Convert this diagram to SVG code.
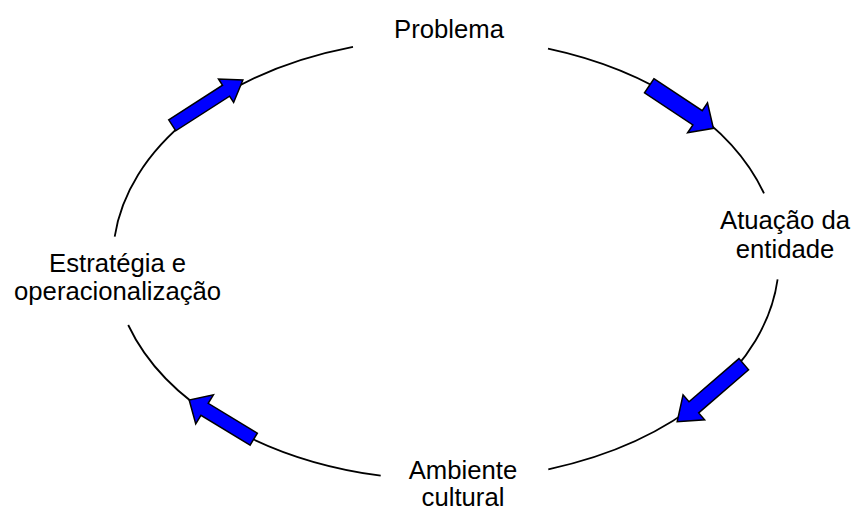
<svg xmlns="http://www.w3.org/2000/svg" width="855" height="511" viewBox="0 0 855 511">
<style>
.lbl{font-family:"Liberation Sans",Arial,sans-serif;font-size:25.7px;fill:#000;text-anchor:middle}
.arc{fill:none;stroke:#000;stroke-width:1.8}
.arw{fill:#0000FF;stroke:#000;stroke-width:1.5;stroke-linejoin:miter}
</style>
<rect width="855" height="511" fill="#fff"/>
<g id="connectors">
<path class="arc" d="M548,48.6 A333,221 0 0 1 764,193.3"/>
<path class="arc" d="M777.6,279.3 A333,221 0 0 1 548.3,469.3"/>
<path class="arc" d="M380.7,475.7 A333,221 0 0 1 128.2,325"/>
<path class="arc" d="M114.7,236.7 A333,221 0 0 1 353,46.8"/>
<polygon class="arw" transform="translate(649.2,85.8) rotate(33.5)" points="0,-8.5 58,-8.5 58,-18 77,0 58,18 58,8.5 0,8.5"/>
<polygon class="arw" transform="translate(743.8,364.2) rotate(139.2)" points="0,-7.4 66,-7.4 66,-16.5 88,0 66,16.5 66,7.4 0,7.4"/>
<polygon class="arw" transform="translate(172.2,125.3) rotate(-32.7)" points="0,-6.5 64,-6.5 64,-14 84,0 64,14 64,6.5 0,6.5"/>
<polygon class="arw" transform="translate(253.7,439.2) rotate(-148.7)" points="0,-7 57.5,-7 57.5,-17 75.5,0 57.5,17 57.5,7 0,7"/>
</g>
<g id="node-problema"><text class="lbl" x="449" y="37.7">Problema</text></g>
<g id="node-atuacao"><text class="lbl" x="785" y="229.3">Atuação da</text><text class="lbl" x="785" y="258.3">entidade</text></g>
<g id="node-ambiente"><text class="lbl" x="463" y="479">Ambiente</text><text class="lbl" x="463" y="505.5">cultural</text></g>
<g id="node-estrategia"><text class="lbl" x="117.6" y="271.7">Estratégia e</text><text class="lbl" x="117.6" y="300.3">operacionalização</text></g>
</svg>
